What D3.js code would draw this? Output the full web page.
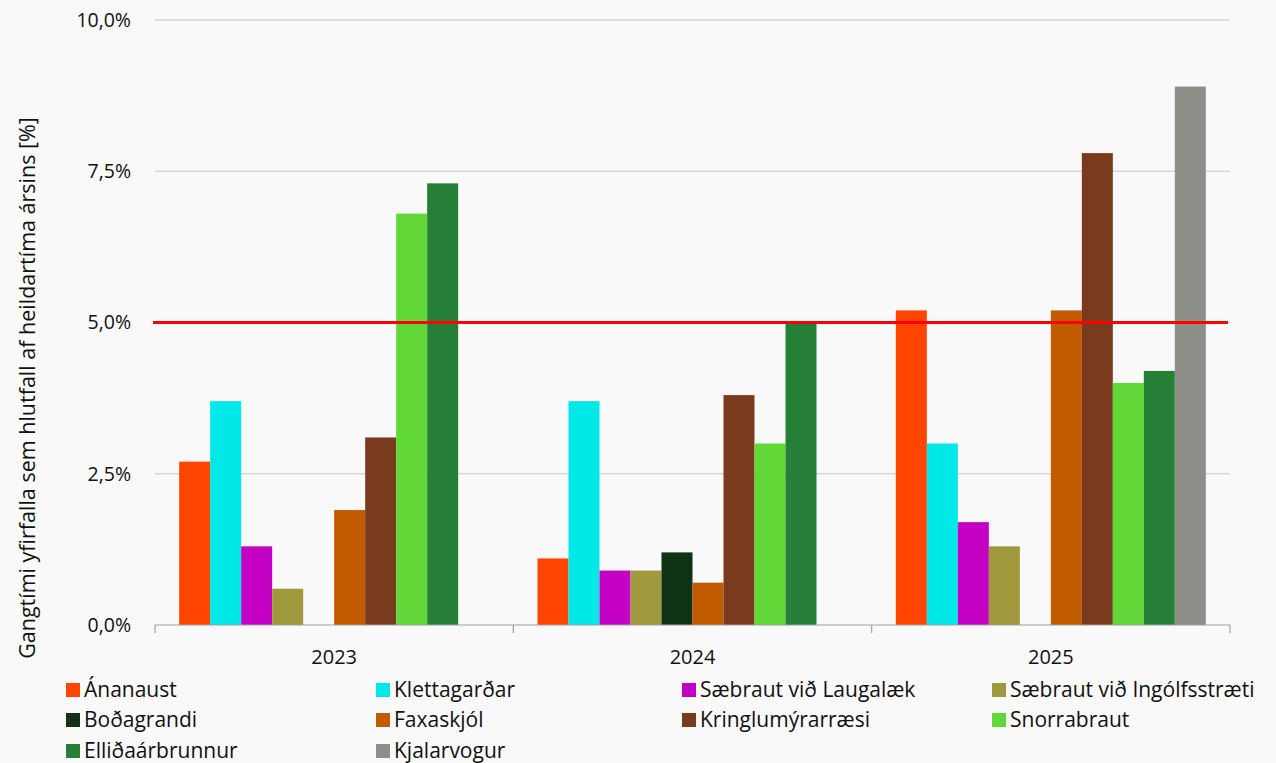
<!DOCTYPE html>
<html><head><meta charset="utf-8">
<script src="https://cdn.jsdelivr.net/npm/d3@7/dist/d3.min.js"></script>
<style>
html,body{margin:0;padding:0;background:#f9f9f9;}
svg{display:block;font-family:"Open Sans",sans-serif;}
</style></head>
<body><svg id="c" width="1276" height="763"></svg>
<script>
const years = ["2023","2024","2025"];
const seriesNames = ["Ánanaust","Klettagarðar","Sæbraut við Laugalæk","Sæbraut við Ingólfsstræti","Boðagrandi","Faxaskjól","Kringlumýrarræsi","Snorrabraut","Elliðaárbrunnur","Kjalarvogur"];
const seriesColors = ["#ff4500","#00e8e8","#c400c4","#a0983c","#0e3214","#c25a00","#7a3a1e","#62d838","#267f36","#8b8f88"];
// values per series, in order of years (null = no value)
const ananaust = [2.7, 1.1, 5.2];
const klettagardar = [3.7, 3.7, 3.0];
const saebrautLaugalaek = [1.3, 0.9, 1.7];
const saebrautIngolfsstraeti = [0.6, 0.9, 1.3];
const bodagrandi = [null, 1.2, null];
const faxaskjol = [1.9, 0.7, 5.2];
const kringlumyrarraesi = [3.1, 3.8, 7.8];
const snorrabraut = [6.8, 3.0, 4.0];
const ellidaarbrunnur = [7.3, 5.0, 4.2];
const kjalarvogur = [null, null, 8.9];
const yTicks = [0, 2.5, 5, 7.5, 10];
const limitValue = 5.0;
const yTitle = "Gangtími yfirfalla sem hlutfall af heildartíma ársins [%]";

const seriesValues = [ananaust, klettagardar, saebrautLaugalaek, saebrautIngolfsstraeti, bodagrandi, faxaskjol, kringlumyrarraesi, snorrabraut, ellidaarbrunnur, kjalarvogur];

const svg = d3.select("#c");
const L = 155, R = 1230, T = 20, B = 625;

const x0 = d3.scaleBand().domain(years).range([L, R]).padding(0);
const x1 = d3.scaleBand().domain(seriesNames).range([0, x0.bandwidth()]).paddingInner(0).paddingOuter(0.78);
const y = d3.scaleLinear().domain([0, 10]).range([B, T]);
const fmt = v => d3.format(".1f")(v).replace(".", ",") + "%";

// gridlines
svg.append("g").selectAll("line").data(yTicks.filter(t => t > 0)).join("line")
  .attr("x1", L).attr("x2", R).attr("y1", d => y(d)).attr("y2", d => y(d))
  .attr("stroke", "#c6c6c6").attr("stroke-width", 1);

// y tick labels
svg.append("g").selectAll("text").data(yTicks).join("text")
  .attr("x", 131).attr("y", d => y(d)).attr("dy", "0.35em")
  .attr("text-anchor", "end").attr("font-size", 19.5).attr("fill", "#111")
  .text(fmt);

// bars
const data = [];
seriesNames.forEach((s, i) => years.forEach((yr, j) => {
  const v = seriesValues[i][j];
  if (v != null) data.push({s, i, yr, v});
}));
svg.append("g").selectAll("rect").data(data).join("rect")
  .attr("x", d => x0(d.yr) + x1(d.s))
  .attr("width", x1.bandwidth())
  .attr("y", d => y(d.v))
  .attr("height", d => y(0) - y(d.v))
  .attr("fill", d => seriesColors[d.i]);

// x axis
const xa = svg.append("g").attr("transform", `translate(0,${B})`);
xa.append("line").attr("x1", L).attr("x2", R).attr("stroke", "#a0a0a0").attr("stroke-width", 1.2);
const bounds = years.map(yv => x0(yv)).concat([R]);
xa.selectAll("line.tk").data(bounds).join("line").attr("class","tk")
  .attr("x1", d => d).attr("x2", d => d).attr("y1", 0).attr("y2", 8)
  .attr("stroke", "#a0a0a0").attr("stroke-width", 1.2);
xa.selectAll("text").data(years).join("text")
  .attr("x", d => x0(d) + x0.bandwidth()/2).attr("y", 39)
  .attr("text-anchor", "middle").attr("font-size", 20).attr("fill", "#111")
  .text(d => d);

// limit line
svg.append("line").attr("x1", L - 2).attr("x2", R - 2)
  .attr("y1", y(limitValue)).attr("y2", y(limitValue))
  .attr("stroke", "#ff0000").attr("stroke-width", 3);

// y title
svg.append("text").attr("transform", `translate(35,388) rotate(-90)`)
  .attr("text-anchor", "middle").attr("font-size", 21.5).attr("fill", "#111")
  .text(yTitle);

// legend
const colX = [66, 376, 682, 992];
const rowY = [690, 720, 751];
const lg = svg.append("g").selectAll("g").data(seriesNames).join("g")
  .attr("transform", (d, i) => `translate(${colX[i % 4]},${rowY[Math.floor(i / 4)]})`);
lg.append("rect").attr("x", 0).attr("y", -7).attr("width", 14).attr("height", 14)
  .attr("fill", (d, i) => seriesColors[i]);
lg.append("text").attr("x", 18).attr("dy", "0.35em").attr("font-size", 21).attr("fill", "#111")
  .text(d => d);
</script></body></html>
